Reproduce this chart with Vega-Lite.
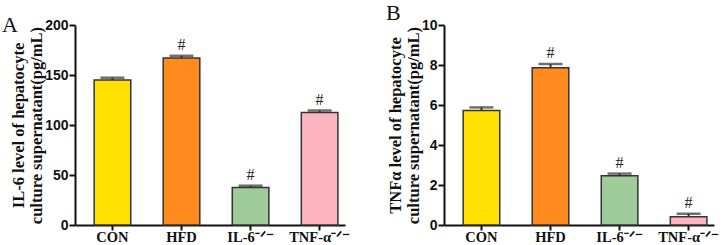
{
  "$schema": "https://vega.github.io/schema/vega-lite/v6.json",
  "padding": {"left": 2, "top": 2, "right": 5, "bottom": 0},
  "spacing": 36,
  "background": "white",
  "config": {
    "view": {"stroke": null},
    "axis": {
      "domainColor": "#111",
      "domainWidth": 2,
      "tickColor": "#111",
      "tickWidth": 2,
      "labelColor": "#111",
      "titleColor": "#111",
      "grid": false,
      "labelOverlap": false
    },
    "axisY": {
      "titleFont": "Liberation Serif", "titleFontWeight": "bold", "titleFontSize": 16.5, "titleLineHeight": 18, "titlePadding": 0,
      "labelFont": "Liberation Sans", "labelFontWeight": "bold", "labelFontSize": 14, "tickSize": 6, "labelPadding": 1
    },
    "axisX": {
      "labelAngle": 0, "labelFont": "Liberation Serif", "labelFontWeight": "bold", "labelFontSize": 14.5, "tickSize": 5, "labelPadding": 0
    }
  },
  "datasets": {
    "a": [
      {"g": "CON", "v": 145, "hi": 147.3, "m": ""},
      {"g": "HFD", "v": 167, "hi": 169.2, "m": "#"},
      {"g": "IL-6⁻ᐟ⁻", "v": 37.5, "hi": 39.3, "m": "#"},
      {"g": "TNF-α⁻ᐟ⁻", "v": 112.5, "hi": 114.5, "m": "#"}
    ],
    "b": [
      {"g": "CON", "v": 5.73, "hi": 5.88, "m": ""},
      {"g": "HFD", "v": 7.86, "hi": 8.05, "m": "#"},
      {"g": "IL-6⁻ᐟ⁻", "v": 2.46, "hi": 2.57, "m": "#"},
      {"g": "TNF-α⁻ᐟ⁻", "v": 0.41, "hi": 0.56, "m": "#"}
    ]
  },
  "hconcat": [
    {
      "width": 270,
      "height": 200,
      "data": {"name": "a"},
      "title": {"text": "A", "anchor": "start", "frame": "group", "dx": -73, "dy": 23, "font": "Liberation Serif", "fontSize": 22, "fontWeight": "normal", "color": "#111"},
      "encoding": {
        "x": {
          "field": "g", "type": "nominal", "sort": null,
          "scale": {"paddingInner": 0.47, "paddingOuter": 0.19, "align": 0.73},
          "axis": {"title": null}
        }
      },
      "layer": [
        {
          "mark": {"type": "bar", "stroke": "#333", "strokeWidth": 1.5},
          "encoding": {
            "y": {
              "field": "v", "type": "quantitative",
              "scale": {"domain": [0, 200], "nice": false},
              "axis": {"values": [0, 50, 100, 150, 200], "title": ["IL-6 level of hepatocyte", "culture supernatant(pg/mL)"]}
            },
            "color": {
              "field": "g", "type": "nominal", "sort": null, "legend": null,
              "scale": {"domain": ["CON", "HFD", "IL-6⁻ᐟ⁻", "TNF-α⁻ᐟ⁻"], "range": ["#FFE000", "#FF8A1E", "#9FCB9B", "#FFB5C0"]}
            }
          }
        },
        {
          "mark": {"type": "rule", "color": "#333", "strokeWidth": 2},
          "encoding": {
            "y": {"field": "v", "type": "quantitative", "axis": {"values": [0, 50, 100, 150, 200], "title": ["IL-6 level of hepatocyte", "culture supernatant(pg/mL)"]}},
            "y2": {"field": "hi"}
          }
        },
        {
          "mark": {"type": "tick", "color": "#333", "size": 24, "thickness": 2.5},
          "encoding": {"y": {"field": "hi", "type": "quantitative", "axis": {"values": [0, 50, 100, 150, 200], "title": ["IL-6 level of hepatocyte", "culture supernatant(pg/mL)"]}}}
        },
        {
          "mark": {"type": "text", "font": "Liberation Serif", "fontSize": 16, "baseline": "bottom", "dy": -3, "color": "#222"},
          "encoding": {"y": {"field": "hi", "type": "quantitative", "axis": {"values": [0, 50, 100, 150, 200], "title": ["IL-6 level of hepatocyte", "culture supernatant(pg/mL)"]}}, "text": {"field": "m"}}
        }
      ]
    },
    {
      "width": 270,
      "height": 200,
      "data": {"name": "b"},
      "title": {"text": "B", "anchor": "start", "frame": "group", "dx": -58, "dy": 11, "font": "Liberation Serif", "fontSize": 22, "fontWeight": "normal", "color": "#111"},
      "encoding": {
        "x": {
          "field": "g", "type": "nominal", "sort": null,
          "scale": {"paddingInner": 0.47, "paddingOuter": 0.19, "align": 0.73},
          "axis": {"title": null}
        }
      },
      "layer": [
        {
          "mark": {"type": "bar", "stroke": "#333", "strokeWidth": 1.5},
          "encoding": {
            "y": {
              "field": "v", "type": "quantitative",
              "scale": {"domain": [0, 10], "nice": false},
              "axis": {"values": [0, 2, 4, 6, 8, 10], "title": ["TNFα  level of hepatocyte", "culture supernatant(pg/mL)"]}
            },
            "color": {
              "field": "g", "type": "nominal", "sort": null, "legend": null,
              "scale": {"domain": ["CON", "HFD", "IL-6⁻ᐟ⁻", "TNF-α⁻ᐟ⁻"], "range": ["#FFE000", "#FF8A1E", "#9FCB9B", "#FFB5C0"]}
            }
          }
        },
        {
          "mark": {"type": "rule", "color": "#333", "strokeWidth": 2},
          "encoding": {
            "y": {"field": "v", "type": "quantitative", "axis": {"values": [0, 2, 4, 6, 8, 10], "title": ["TNFα  level of hepatocyte", "culture supernatant(pg/mL)"]}},
            "y2": {"field": "hi"}
          }
        },
        {
          "mark": {"type": "tick", "color": "#333", "size": 24, "thickness": 2.5},
          "encoding": {"y": {"field": "hi", "type": "quantitative", "axis": {"values": [0, 2, 4, 6, 8, 10], "title": ["TNFα  level of hepatocyte", "culture supernatant(pg/mL)"]}}}
        },
        {
          "mark": {"type": "text", "font": "Liberation Serif", "fontSize": 16, "baseline": "bottom", "dy": -3, "color": "#222"},
          "encoding": {"y": {"field": "hi", "type": "quantitative", "axis": {"values": [0, 2, 4, 6, 8, 10], "title": ["TNFα  level of hepatocyte", "culture supernatant(pg/mL)"]}}, "text": {"field": "m"}}
        }
      ]
    }
  ]
}
